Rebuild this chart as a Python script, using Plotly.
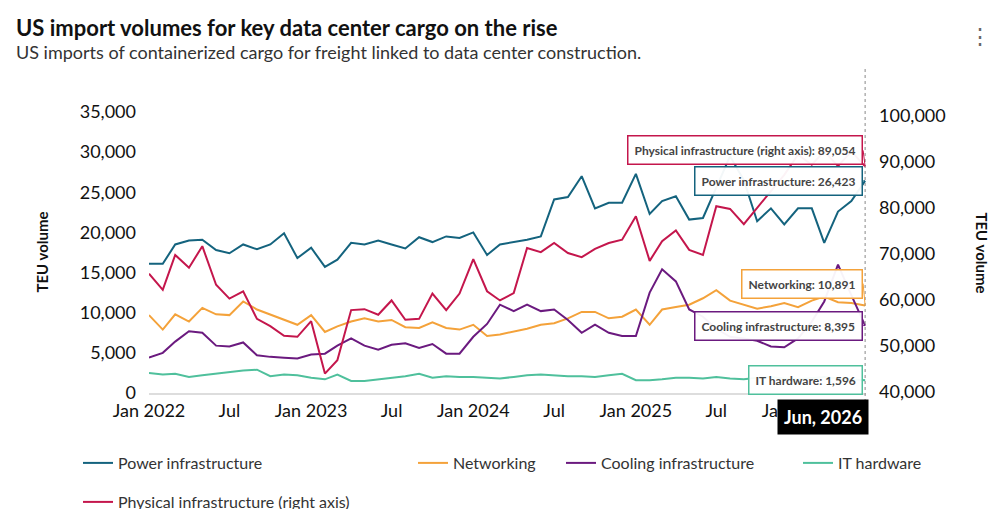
import plotly.graph_objects as go
import pandas as pd

months = pd.date_range("2022-01-01", "2026-06-01", freq="MS")

power = [16.1,16.1,18.5,19.0,19.1,17.8,17.4,18.5,17.9,18.5,19.9,16.8,18.1,15.7,16.6,18.7,18.5,19.0,18.5,18.0,19.4,18.8,19.5,19.3,20.0,17.2,
         18.5,18.8,19.1,19.5,24.1,24.4,27.0,23.0,23.7,23.7,27.3,22.3,23.9,24.5,21.6,21.8,25.5,29.5,26.5,21.4,23.0,21.0,23.0,23.0,18.7,22.6,23.9,26.423]
physical = [65.7,62.2,69.8,67.0,71.7,63.3,60.3,61.9,55.9,54.3,52.2,52.0,55.4,44.0,46.9,57.8,58.0,56.8,59.9,55.7,55.9,61.4,57.8,61.4,68.9,61.9,
            59.9,61.5,71.3,70.4,72.4,70.2,69.3,71.1,72.4,73.1,78.2,68.5,72.8,75.1,70.9,69.8,80.4,79.8,76.5,80.0,83.6,87.2,91.6,89.4,92.3,89.1,92.3,89.054]
networking = [9.7,7.9,9.8,8.9,10.6,9.8,9.7,11.4,10.4,9.8,9.1,8.5,9.7,7.6,8.3,8.9,9.3,8.9,9.1,8.2,8.1,8.8,8.1,7.9,8.5,7.1,
              7.3,7.7,8.0,8.5,8.7,9.3,10.1,10.1,9.3,9.5,10.4,8.5,10.4,10.7,11.0,11.8,12.8,11.5,11.0,10.5,10.8,11.2,10.7,11.5,12.0,11.3,11.2,10.891]
cooling = [4.4,5.0,6.4,7.7,7.5,5.9,5.8,6.3,4.7,4.5,4.4,4.3,4.8,4.9,5.9,6.8,5.9,5.4,6.0,6.2,5.6,6.1,4.9,4.9,7.0,8.6,
           11.0,10.2,11.0,10.2,10.4,9.1,7.5,8.5,7.5,7.1,7.1,12.5,15.4,13.9,10.4,9.5,8.0,7.0,6.8,6.5,5.8,5.7,6.8,8.9,11.4,16.0,12.2,8.395]
it_hw = [2.5,2.3,2.4,2.0,2.2,2.4,2.6,2.8,2.9,2.1,2.3,2.2,1.9,1.7,2.3,1.5,1.5,1.7,1.9,2.1,2.4,1.9,2.1,2.0,2.0,1.9,
         1.8,2.0,2.2,2.3,2.2,2.1,2.1,2.0,2.2,2.4,1.6,1.6,1.7,1.9,1.9,1.8,2.0,1.8,1.7,1.9,2.0,1.8,1.7,1.9,2.0,1.8,1.7,1.596]

tick_vals = pd.date_range("2022-01-01", "2026-07-01", freq="6MS")
tick_text = ["Jan 2022","Jul","Jan 2023","Jul","Jan 2024","Jul","Jan 2025","Jul","Jan 2026","Jul"]

C_POW, C_NET, C_COOL, C_IT, C_PHY = "#14637e", "#f4a23a", "#6b1a7f", "#4fc09c", "#c4164c"
W, H = 1000, 509
L, R, T, B = 141, 142, 104, 124
PW, PH = W - L - R, H - T - B

fig = go.Figure()
legend_pos = {"legend": (70, 455), "legend2": (405, 455), "legend3": (553, 455),
              "legend4": (790, 455), "legend5": (70, 494)}
def tr(name, y, c, lg, axis="y"):
    fig.add_trace(go.Scatter(x=months, y=[v*1000 for v in y], name=name, mode="lines",
                             line=dict(color=c, width=2), yaxis=axis, legend=lg))
tr("Power infrastructure", power, C_POW, "legend")
tr("Networking", networking, C_NET, "legend2")
tr("Cooling infrastructure", cooling, C_COOL, "legend3")
tr("IT hardware", it_hw, C_IT, "legend4")
tr("Physical infrastructure (right axis)", physical, C_PHY, "legend5", "y2")

font = "Lato, Roboto, sans-serif"
fig.update_layout(
    width=W, height=H, margin=dict(l=L, r=R, t=T, b=B, autoexpand=False),
    plot_bgcolor="white", paper_bgcolor="white", font=dict(family=font, color="#222"),
    showlegend=True,
    xaxis=dict(range=[months[0], months[-1] + pd.Timedelta(days=2)], tickvals=tick_vals, ticktext=tick_text,
               tickfont=dict(size=18, color="#111"), showgrid=False, showline=True,
               linecolor="#ddd", linewidth=2, ticks="", automargin=False),
    yaxis=dict(range=[0, 35000], tickvals=list(range(0, 35001, 5000)), tickformat=",",
               tickfont=dict(size=18, color="#111"), showgrid=False, zeroline=False,
               ticklabelstandoff=12, automargin=False),
    yaxis2=dict(range=[39780, 100870], overlaying="y", side="right",
                tickvals=list(range(40000, 100001, 10000)), tickformat=",",
                tickfont=dict(size=18, color="#111"), showgrid=False, zeroline=False,
                ticklabelstandoff=12, automargin=False),
)
for lg, (px, py) in legend_pos.items():
    fig.layout[lg] = dict(xref="container", yref="container", x=px/W, y=1-py/H, xanchor="left",
                          yanchor="middle", font=dict(size=16, color="#333"), itemwidth=30,
                          bgcolor="rgba(0,0,0,0)")

def px_x(p): return (p - L) / PW
def px_y(p): return 1 - (p - T) / PH

fig.add_annotation(text="<b>US import volumes for key data center cargo on the rise</b>", xref="paper", yref="paper",
                   x=px_x(6), y=px_y(4), xanchor="left", yanchor="top",
                   showarrow=False, font=dict(size=22, color="#111"))
fig.add_annotation(text="US imports of containerized cargo for freight linked to data center construction.", xref="paper", yref="paper",
                   x=px_x(6), y=px_y(31), xanchor="left", yanchor="top",
                   showarrow=False, font=dict(size=18, color="#333"))
fig.add_annotation(text="<b>TEU volume</b>", xref="paper", yref="paper", x=px_x(22), y=0.5, textangle=-90,
                   showarrow=False, font=dict(size=15, color="#111"))
fig.add_annotation(text="<b>TEU volume</b>", xref="paper", yref="paper", x=px_x(985), y=0.5, textangle=90,
                   showarrow=False, font=dict(size=15, color="#111"))

fig.add_shape(type="line", x0=months[-1], x1=months[-1], xref="x", yref="paper", y0=px_y(400), y1=px_y(60),
              line=dict(color="#888", width=1, dash="dot"))

tips = [("Physical infrastructure (right axis): 89,054", physical[-1]*1000, "y2", C_PHY),
        ("Power infrastructure: 26,423", power[-1]*1000, "y", C_POW),
        ("Networking: 10,891", networking[-1]*1000, "y", C_NET),
        ("Cooling infrastructure: 8,395", cooling[-1]*1000, "y", C_COOL),
        ("IT hardware: 1,596", it_hw[-1]*1000, "y", C_IT)]
offsets = [-16, 0, -22, 0, 0]
for (t, v, ax, c), oy in zip(tips, offsets):
    fig.add_annotation(text="<b>"+t+"</b>", x=months[-1], y=v, xref="x", yref=ax, xanchor="right",
                       showarrow=True, ax=-2, ay=oy, axref="pixel", arrowcolor=c, arrowhead=0,
                       bgcolor="rgba(255,255,255,0.95)", bordercolor=c, borderwidth=1.5, borderpad=6,
                       font=dict(size=12, color="#444"))
fig.add_annotation(text="<b>Jun, 2026</b>", x=months[-1], y=px_y(391), xref="x", yref="paper", yanchor="top",
                   xanchor="right", xshift=4,
                   showarrow=False, bgcolor="black", font=dict(size=18, color="white"), borderpad=6)
fig.add_annotation(text="⋮", xref="paper", yref="paper", x=px_x(985), y=px_y(12), showarrow=False,
                   yanchor="top", font=dict(size=22, color="#666"))
fig.write_html("out.html")
